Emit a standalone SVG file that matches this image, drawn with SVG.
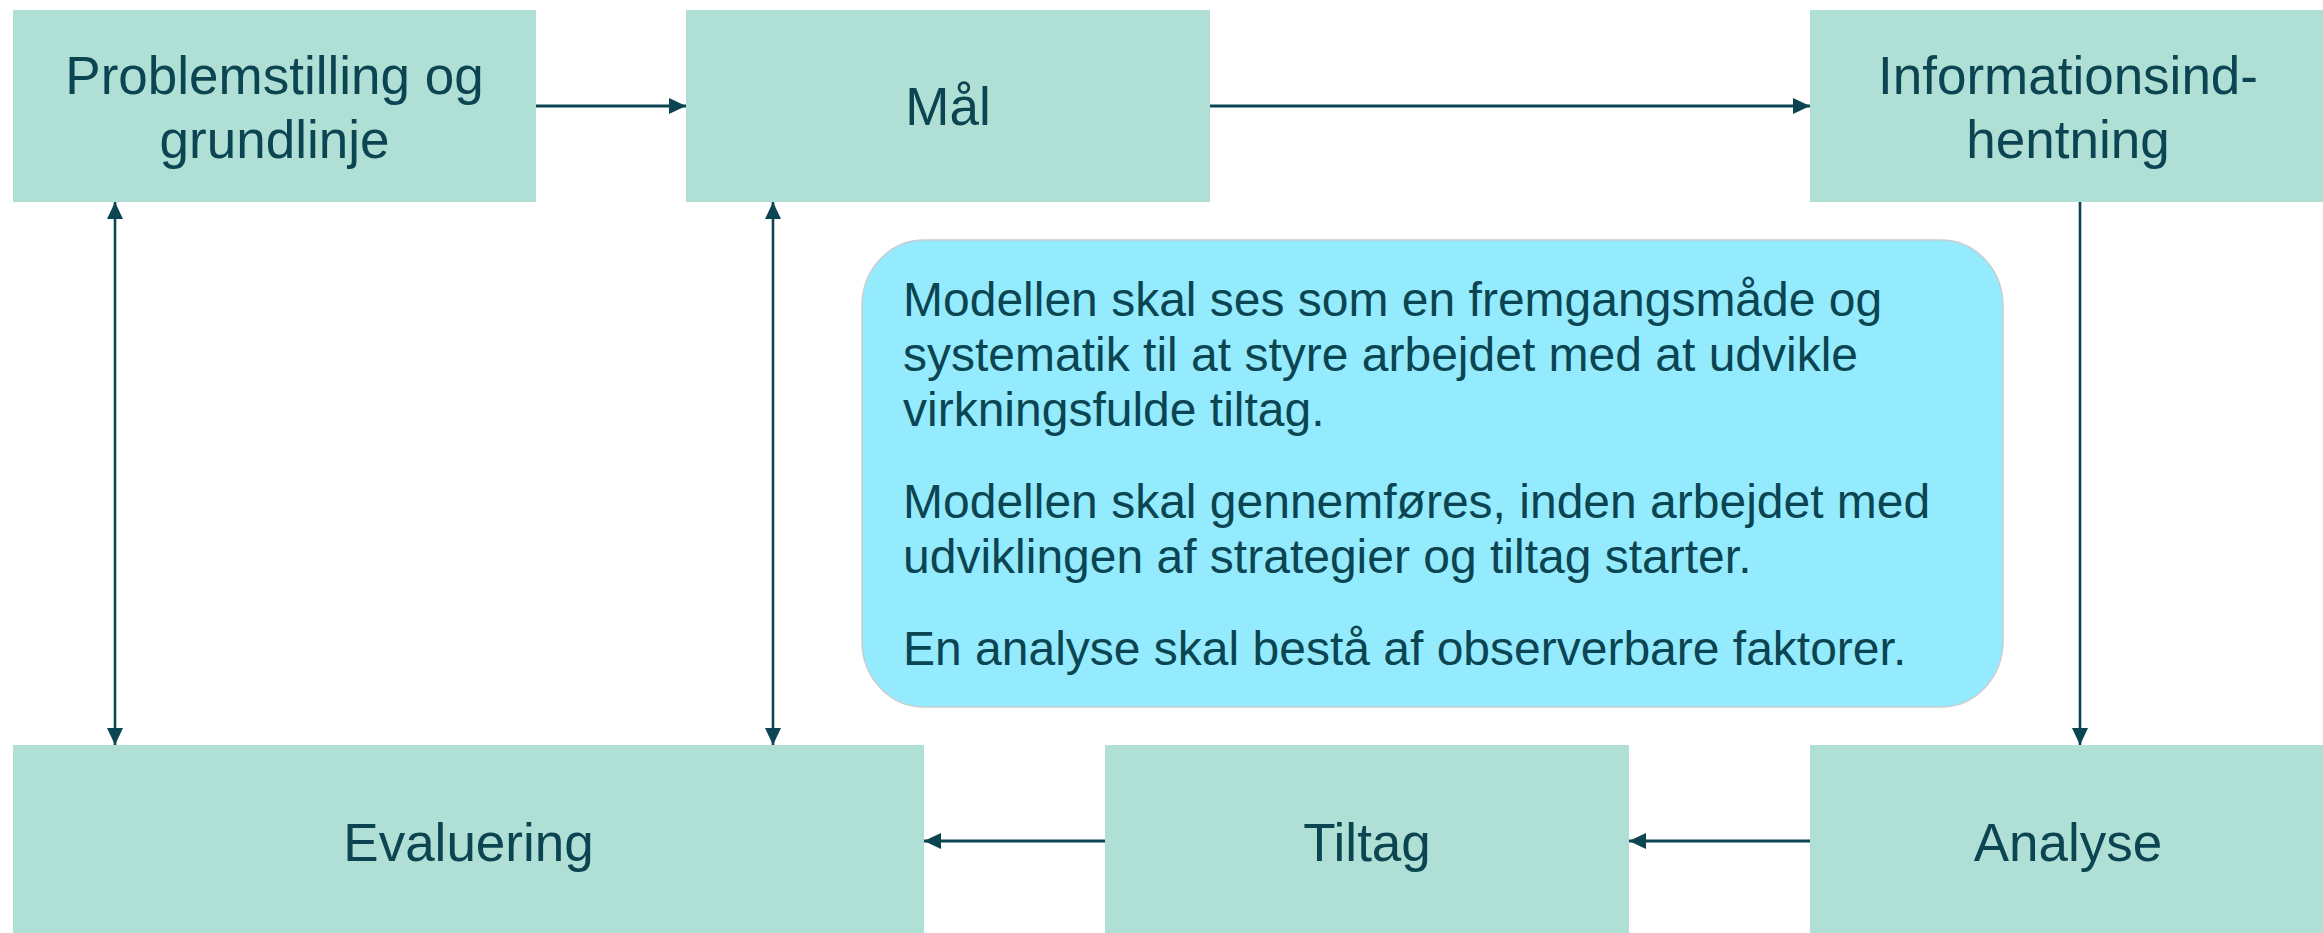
<svg xmlns="http://www.w3.org/2000/svg" width="2323" height="933" viewBox="0 0 2323 933">
<style>
.box{fill:#B0DFD5;}
.lbl{font-family:"Liberation Sans",Arial,sans-serif;font-size:53px;fill:#0C4552;text-anchor:middle;}
.note{font-family:"Liberation Sans",Arial,sans-serif;font-size:48px;fill:#0C4552;}
.con{stroke:#0C4552;fill:none;}
.h{stroke-width:3;}
.v{stroke-width:2.6;}
</style>
<defs>
<marker id="ah" markerUnits="userSpaceOnUse" markerWidth="18" markerHeight="16" refX="17" refY="8" orient="auto-start-reverse">
<path d="M0,0 L17,8 L0,16 z" fill="#0C4552"/>
</marker>
</defs>
<rect width="2323" height="933" fill="#FFFFFF"/>
<g id="connectors">
<line class="con h" x1="536" y1="106" x2="686" y2="106" marker-end="url(#ah)"/>
<line class="con h" x1="1210" y1="106" x2="1810" y2="106" marker-end="url(#ah)"/>
<line class="con v" x1="2080" y1="202" x2="2080" y2="745" marker-end="url(#ah)"/>
<line class="con h" x1="1810" y1="841" x2="1629" y2="841" marker-end="url(#ah)"/>
<line class="con h" x1="1105" y1="841" x2="924" y2="841" marker-end="url(#ah)"/>
<line class="con v" x1="115" y1="202" x2="115" y2="745" marker-start="url(#ah)" marker-end="url(#ah)"/>
<line class="con v" x1="773" y1="202" x2="773" y2="745" marker-start="url(#ah)" marker-end="url(#ah)"/>
</g>
<g id="problemstilling">
<rect class="box" x="13" y="10" width="523" height="192"/>
<text class="lbl" x="274.5" y="94">Problemstilling og</text>
<text class="lbl" x="274.5" y="158">grundlinje</text>
</g>
<g id="maal">
<rect class="box" x="686" y="10" width="524" height="192"/>
<text class="lbl" x="948" y="125">Mål</text>
</g>
<g id="informationsindhentning">
<rect class="box" x="1810" y="10" width="513" height="192"/>
<text class="lbl" x="2068" y="94">Informationsind-</text>
<text class="lbl" x="2068" y="158">hentning</text>
</g>
<g id="evaluering">
<rect class="box" x="13" y="745" width="911" height="188"/>
<text class="lbl" x="468.5" y="861">Evaluering</text>
</g>
<g id="tiltag">
<rect class="box" x="1105" y="745" width="524" height="188"/>
<text class="lbl" x="1367" y="861">Tiltag</text>
</g>
<g id="analyse">
<rect class="box" x="1810" y="745" width="513" height="188"/>
<text class="lbl" x="2068" y="861">Analyse</text>
</g>
<g id="note">
<rect x="862" y="240" width="1141" height="467" rx="62" ry="66" fill="#94EBFE" stroke="#C9CDD0" stroke-width="1.5"/>
<text class="note" x="903" y="316">Modellen skal ses som en fremgangsmåde og</text>
<text class="note" x="903" y="371">systematik til at styre arbejdet med at udvikle</text>
<text class="note" x="903" y="426">virkningsfulde tiltag.</text>
<text class="note" x="903" y="518">Modellen skal gennemføres, inden arbejdet med</text>
<text class="note" x="903" y="573">udviklingen af strategier og tiltag starter.</text>
<text class="note" x="903" y="665">En analyse skal bestå af observerbare faktorer.</text>
</g>
</svg>
